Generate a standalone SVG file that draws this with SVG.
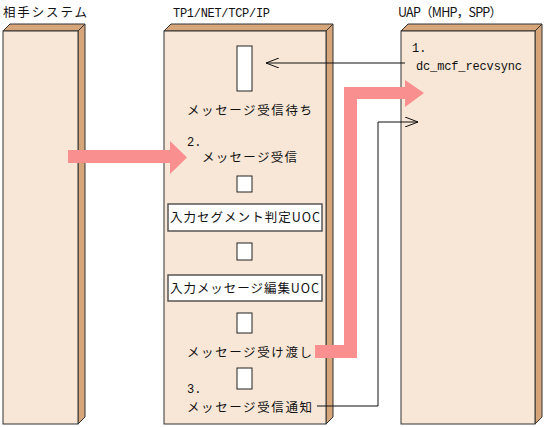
<svg xmlns="http://www.w3.org/2000/svg" width="545" height="427" viewBox="0 0 545 427">
<style>
.front{fill:#F8E6D6;stroke:#333;stroke-width:1}
.side{fill:#D6A67A;stroke:#333;stroke-width:1;stroke-linejoin:round}
.sm{fill:#fff;stroke:#222;stroke-width:1}
.uoc{fill:#fff;stroke:#555;stroke-width:1.5}
text{font-family:"Noto Sans CJK JP","DejaVu Sans",sans-serif;font-size:12.5px;fill:#111}
text.mono{font-family:"Liberation Mono","DejaVu Sans Mono",monospace;font-size:12px}
.ln{fill:none;stroke:#111;stroke-width:1}
.pink{fill:#F98F8F}
</style>
<defs>
<marker id="open" markerWidth="14" markerHeight="10" refX="13" refY="5" orient="auto" markerUnits="userSpaceOnUse">
<path d="M0,0 L13,5 L0,10" fill="none" stroke="#111" stroke-width="1"/>
</marker>
</defs>
<g id="remote">
<polygon class="side" points="3,31 10,24 85,24 78,31"/>
<polygon class="side" points="78,31 85,24 85,417 78,424"/>
<rect class="front" x="3" y="31" width="75" height="393"/>
<text x="3" y="17" textLength="84">相手システム</text>
</g>
<g id="tp1">
<polygon class="side" points="164,31 171,24 333,24 326,31"/>
<polygon class="side" points="326,31 333,24 333,417 326,424"/>
<rect class="front" x="164" y="31" width="162" height="393"/>
<text class="mono" x="173" y="17" textLength="97">TP1/NET/TCP/IP</text>
</g>
<g id="uap">
<polygon class="side" points="401,31 408,24 542,24 535,31"/>
<polygon class="side" points="535,31 542,24 542,417 535,424"/>
<rect class="front" x="401" y="31" width="134" height="393"/>
<text x="398" y="17" textLength="104">UAP（MHP，SPP）</text>
</g>
<g id="wait">
<rect class="sm" x="237" y="46" width="15" height="45"/>
<text x="187" y="115" textLength="125">メッセージ受信待ち</text>
</g>
<g id="recv">
<text class="mono" x="187" y="146">2.</text>
<text x="202" y="162" textLength="95">メッセージ受信</text>
<rect class="sm" x="237" y="176" width="15" height="16"/>
</g>
<g id="seg">
<rect class="uoc" x="168" y="204" width="154" height="27"/>
<text x="170" y="222" textLength="150">入力セグメント判定UOC</text>
<rect class="sm" x="237" y="243" width="15" height="17"/>
</g>
<g id="edit">
<rect class="uoc" x="168" y="275" width="154" height="26"/>
<text x="170" y="293" textLength="149">入力メッセージ編集UOC</text>
<rect class="sm" x="237" y="313" width="15" height="20"/>
</g>
<g id="pass">
<text x="187" y="357" textLength="125">メッセージ受け渡し</text>
<rect class="sm" x="237" y="368" width="15" height="21"/>
</g>
<g id="notify">
<text class="mono" x="187" y="393">3.</text>
<text x="187" y="412" textLength="125">メッセージ受信通知</text>
</g>
<g id="call">
<text class="mono" x="412" y="52">1.</text>
<text class="mono" x="416" y="70" textLength="106">dc_mcf_recvsync</text>
</g>
<g id="connectors">
<polygon class="pink" points="68,150 170,150 170,141 187,157.5 170,174 170,163 68,163"/>
<polygon class="pink" points="315,345 344,345 344,87 405,87 405,80 424,93 405,107 405,99 357,99 357,358 315,358"/>
<path class="ln" d="M405,63 H266" marker-end="url(#open)"/>
<path class="ln" d="M317,406 H378 V122 H418" marker-end="url(#open)"/>
</g>
</svg>
